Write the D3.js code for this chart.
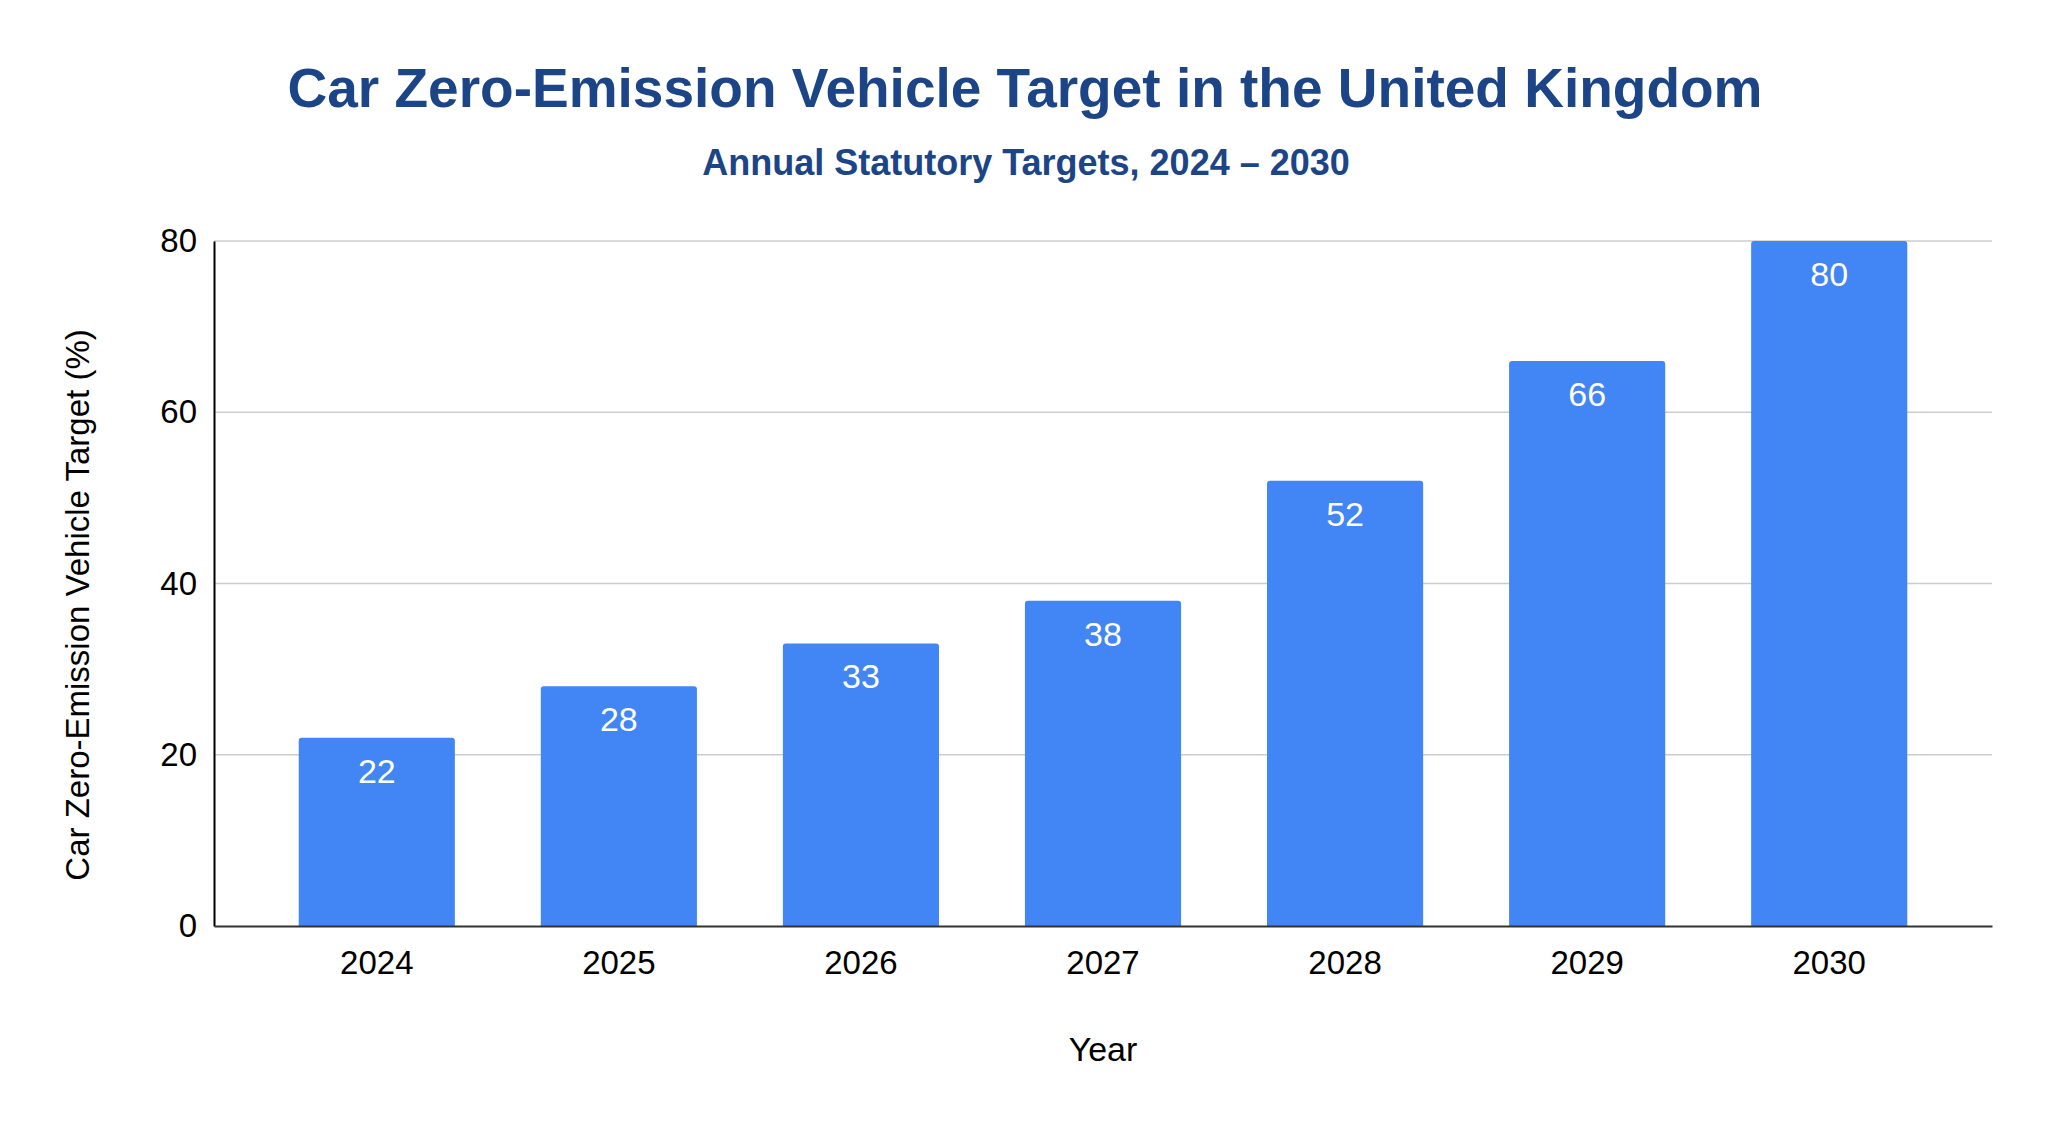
<!DOCTYPE html>
<html>
<head>
<meta charset="utf-8">
<script src="https://cdn.jsdelivr.net/npm/d3@7"></script>
<style>
  html, body { margin: 0; padding: 0; background: #fff; }
  svg { display: block; font-family: "Liberation Sans", Arial, sans-serif; }
</style>
</head>
<body>
<svg id="chart" width="2048" height="1124"></svg>
<script>
const years = ["2024", "2025", "2026", "2027", "2028", "2029", "2030"];
const targets = [22, 28, 33, 38, 52, 66, 80];
const yTicks = [0, 20, 40, 60, 80];
const titleText = "Car Zero-Emission Vehicle Target in the United Kingdom";
const subtitleText = "Annual Statutory Targets, 2024 \u2013 2030";
const xTitle = "Year";
const yTitle = "Car Zero-Emission Vehicle Target (%)";

const W = 2048, H = 1124;
const margin = { top: 241, right: 56, bottom: 198, left: 214 };
const svg = d3.select("#chart");

const x = d3.scaleBand().domain(years).range([margin.left, W - margin.right]).paddingInner(0.355).paddingOuter(0.35);
const y = d3.scaleLinear().domain([0, 80]).range([H - margin.bottom, margin.top]);

const titleColor = "#1c4587";
svg.append("text").attr("x", 1025).attr("y", 107).attr("text-anchor", "middle")
  .attr("font-size", 55).attr("font-weight", "bold").attr("fill", titleColor).text(titleText);
svg.append("text").attr("x", 1026).attr("y", 175).attr("text-anchor", "middle")
  .attr("font-size", 36).attr("font-weight", "bold").attr("fill", titleColor).text(subtitleText);

// gridlines
svg.append("g").selectAll("line").data(yTicks.filter(d => d !== 0)).join("line")
  .attr("x1", margin.left).attr("x2", W - margin.right)
  .attr("y1", d => y(d)).attr("y2", d => y(d))
  .attr("stroke", "#cccccc").attr("stroke-width", 1.5);

// y axis
const yAxis = d3.axisLeft(y).tickValues(yTicks).tickSize(0).tickPadding(17);
const gy = svg.append("g").attr("transform", `translate(${margin.left},0)`).call(yAxis);
gy.select(".domain").attr("stroke", "#000").attr("stroke-width", 2);
gy.selectAll("text").attr("font-size", 33).attr("fill", "#000").attr("font-family", "Liberation Sans, Arial, sans-serif");

// bars
const r = 3;
function barPath(d, i) {
  const x0 = x(years[i]), w = x.bandwidth(), y0 = y(d), y1 = y(0);
  return `M${x0},${y1}V${y0 + r}Q${x0},${y0} ${x0 + r},${y0}H${x0 + w - r}Q${x0 + w},${y0} ${x0 + w},${y0 + r}V${y1}Z`;
}
svg.append("g").selectAll("path").data(targets).join("path")
  .attr("d", (d, i) => barPath(d, i)).attr("fill", "#4285f4");

// bar labels
svg.append("g").selectAll("text").data(targets).join("text")
  .attr("x", (d, i) => x(years[i]) + x.bandwidth() / 2)
  .attr("y", d => y(d) + 45)
  .attr("text-anchor", "middle").attr("font-size", 34).attr("fill", "#fff")
  .text(d => d);

// x axis
const xAxis = d3.axisBottom(x).tickSize(0).tickPadding(25);
const gx = svg.append("g").attr("transform", `translate(0,${y(0)})`).call(xAxis);
gx.select(".domain").attr("stroke", "#333").attr("stroke-width", 2);
gx.selectAll("text").attr("font-size", 33).attr("fill", "#000").attr("font-family", "Liberation Sans, Arial, sans-serif");

// axis titles
svg.append("text").attr("x", (margin.left + W - margin.right) / 2).attr("y", 1061)
  .attr("text-anchor", "middle").attr("font-size", 34).attr("fill", "#000").text(xTitle);
svg.append("text").attr("transform", "translate(89,605) rotate(-90)")
  .attr("text-anchor", "middle").attr("font-size", 33).attr("fill", "#000").text(yTitle);
</script>
</body>
</html>
